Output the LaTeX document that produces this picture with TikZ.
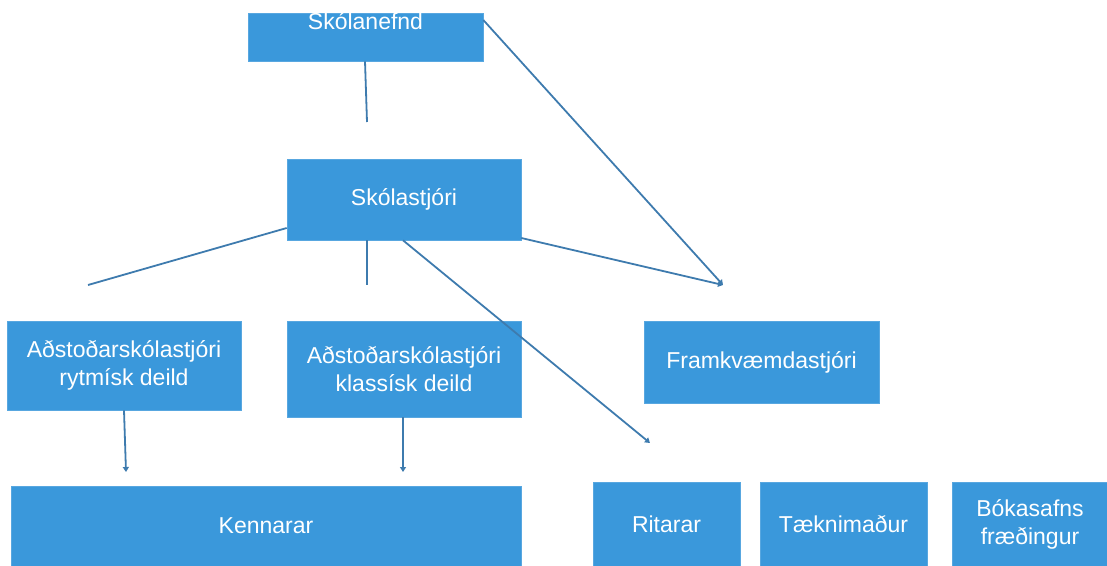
\documentclass[tikz,border=0pt]{standalone}
\usepackage{fontspec}
\setmainfont{Liberation Sans}
\usetikzlibrary{arrows.meta}
\definecolor{boxblue}{HTML}{3A98DB}
\definecolor{lineblue}{HTML}{3E7BAE}
\tikzset{
  orgbox/.style={fill=boxblue, draw=boxblue!85!white, line width=0.6pt, text=white, align=center, inner sep=0pt,
    font=\fontsize{23}{28}\selectfont},
  conn/.style={draw=lineblue, line width=1.8pt},
  arr/.style={conn, -{Triangle[width=6pt,length=5pt]}},
}
\begin{document}
\begin{tikzpicture}[x=1pt,y=-1pt]
\useasboundingbox (0,0) rectangle (1107,565);
% boxes
\node[orgbox, minimum width=235pt, minimum height=48pt] (nefnd) at (365.5,37) {};
\node[text=white, font=\fontsize{23}{28}\selectfont, inner sep=0pt] (nefndtxt) at (365.5,21) {Skólanefnd};
\node[orgbox, minimum width=234pt, minimum height=81pt] (skoli) at (404,199.5) {Skólastjóri};
\node[orgbox, minimum width=234pt, minimum height=89pt] (ar) at (124,365.5) {Aðstoðarskólastjóri\\rytmísk deild};
\node[orgbox, minimum width=234pt, minimum height=96pt] (ak) at (404,369) {Aðstoðarskólastjóri\\klassísk deild};
\node[orgbox, minimum width=235pt, minimum height=82pt] (fk) at (761.5,362) {Framkvæmdastjóri};
\node[orgbox, minimum width=510pt, minimum height=80pt] (ken) at (266,526) {Kennarar};
\node[orgbox, minimum width=147pt, minimum height=84pt] (rit) at (666.5,524) {Ritarar};
\node[orgbox, minimum width=167pt, minimum height=84pt] (taek) at (843.5,524) {Tæknimaður};
\node[orgbox, minimum width=156pt, minimum height=84pt] (bok) at (1030,524) {Bókasafns\\fræðingur};
% free ends
\coordinate (e1) at (367,122);
\coordinate (e2) at (88,285);
\coordinate (e3) at (367,285);
\coordinate (e4) at (723,285);
\coordinate (e6) at (650,443);
\coordinate (e7) at (126,472);
\coordinate (e8) at (403,472);
% connectors
\draw[conn] (nefnd.south -| 365,0) -- (e1);
\draw[conn] (skoli.west |- 0,228) -- (e2);
\draw[conn] (skoli.south -| 367,0) -- (e3);
\draw[arr] (skoli.east |- 0,238) -- (e4);
\draw[arr] (nefnd.east |- 0,20) -- (e4);
\draw[arr] (skoli.south -| 403,0) -- (e6);
\draw[arr] (ar.south -| 124,0) -- (e7);
\draw[arr] (ak.south -| 403,0) -- (e8);
\end{tikzpicture}
\end{document}
